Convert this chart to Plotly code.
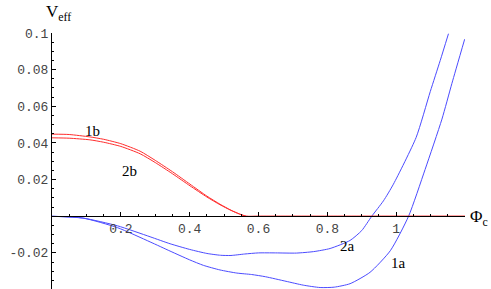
import plotly.graph_objects as go

# ---- data ----
x_1b = [0.0, 0.05, 0.11, 0.15, 0.2, 0.256, 0.3, 0.35, 0.401, 0.45, 0.488, 0.52, 0.545, 0.565, 0.6, 0.8, 1.0, 1.2]
y_1b = [0.0448, 0.0446, 0.0433, 0.0420, 0.0396, 0.0355, 0.0305, 0.0243, 0.0175, 0.0110, 0.0066, 0.0033, 0.0012, 0.0, 0.0, 0.0, 0.0, 0.0]

x_2b = [0.0, 0.05, 0.11, 0.15, 0.2, 0.256, 0.3, 0.35, 0.401, 0.45, 0.488, 0.52, 0.545, 0.565, 0.6, 0.8, 1.0, 1.2]
y_2b = [0.0428, 0.0426, 0.0417, 0.0404, 0.0381, 0.0341, 0.0293, 0.0232, 0.0166, 0.0105, 0.0063, 0.0032, 0.0012, 0.0, 0.0, 0.0, 0.0, 0.0]

x_2a = [0.0, 0.09, 0.19, 0.285, 0.343, 0.40, 0.45, 0.49, 0.52, 0.56, 0.60, 0.65, 0.71, 0.76, 0.808, 0.866, 0.90, 0.929, 0.963, 0.992, 1.058, 1.099, 1.128, 1.152]
y_2a = [0.0, -0.0010, -0.0052, -0.0112, -0.0150, -0.0181, -0.0203, -0.0213, -0.0214, -0.0206, -0.0200, -0.0200, -0.0201, -0.0193, -0.0176, -0.0132, -0.0078, 0.0, 0.0084, 0.0175, 0.0430, 0.0680, 0.0850, 0.0996]

x_1a = [0.0, 0.09, 0.19, 0.285, 0.343, 0.40, 0.44, 0.488, 0.537, 0.58, 0.62, 0.68, 0.73, 0.779, 0.82, 0.866, 0.924, 0.983, 1.036, 1.084, 1.133, 1.162, 1.199]
y_1a = [0.0, -0.0010, -0.0062, -0.0140, -0.0190, -0.0238, -0.0268, -0.0293, -0.0310, -0.0318, -0.0330, -0.0355, -0.0376, -0.0389, -0.0387, -0.0368, -0.0306, -0.0188, 0.0, 0.0255, 0.0530, 0.0725, 0.0966]

x_tickvals = [0.2, 0.4, 0.6, 0.8, 1.0]
x_ticktext = ["0.2", "0.4", "0.6", "0.8", "1"]
y_tickvals = [-0.02, 0.02, 0.04, 0.06, 0.08, 0.1]
y_ticktext = ["-0.02", "0.02", "0.04", "0.06", "0.08", "0.1"]

curve_labels = ["1b", "2b", "2a", "1a"]
label_x = [0.119, 0.224, 0.860, 1.006]
label_y = [0.0466, 0.0248, -0.0161, -0.0253]

RED = "rgb(255,45,45)"
BLUE = "rgb(75,75,255)"

fig = go.Figure()
for xs, ys, col in [(x_1a, y_1a, BLUE), (x_2a, y_2a, BLUE), (x_1b, y_1b, RED), (x_2b, y_2b, RED)]:
    fig.add_trace(go.Scatter(x=xs, y=ys, mode="lines",
                             line=dict(color=col, width=1, shape="spline", smoothing=0.6),
                             showlegend=False, hoverinfo="skip"))

for t, lx, ly in zip(curve_labels, label_x, label_y):
    fig.add_annotation(x=lx, y=ly, text=t, showarrow=False,
                       font=dict(family="Liberation Serif", size=15, color="black"))

fig.add_annotation(xref="paper", yref="paper", x=-0.02, y=1.13, xanchor="left", yanchor="top",
                   text="V<sub>eff</sub>", showarrow=False,
                   font=dict(family="Liberation Serif", size=17, color="black"))
fig.add_annotation(x=1.2, y=0, xanchor="left", yanchor="middle", xshift=3, yshift=-2,
                   text="Φ<sub>c</sub>", showarrow=False,
                   font=dict(family="Liberation Serif", size=17, color="black"))

ymin, ymax = -0.0397, 0.1
TICKFONT = dict(family="Liberation Mono, Courier New, monospace", size=13, color="#444")
fig.update_layout(
    width=491, height=289,
    margin=dict(l=52, r=26, t=33, b=0),
    paper_bgcolor="white", plot_bgcolor="white",
    xaxis=dict(range=[0, 1.2], anchor="free", position=(-ymin) / (ymax - ymin),
               showline=True, linecolor="black", linewidth=1,
               showgrid=False, zeroline=False,
               tickmode="array", tickvals=x_tickvals, ticktext=x_ticktext,
               ticks="inside", ticklen=4, tickcolor="black", tickwidth=1,
               minor=dict(dtick=0.05, tick0=0, ticks="inside", ticklen=2, tickcolor="black", showgrid=False),
               tickfont=TICKFONT),
    yaxis=dict(range=[ymin, ymax],
               showline=True, linecolor="black", linewidth=1,
               showgrid=False, zeroline=False,
               tickmode="array", tickvals=y_tickvals, ticktext=y_ticktext,
               ticks="inside", ticklen=4, tickcolor="black", tickwidth=1,
               minor=dict(dtick=0.005, tick0=0, ticks="inside", ticklen=2, tickcolor="black", showgrid=False),
               tickfont=TICKFONT),
)

fig.write_html("out.html", config={"displayModeBar": False},
               post_script="document.body.style.margin='0';document.body.style.overflow='hidden';")
